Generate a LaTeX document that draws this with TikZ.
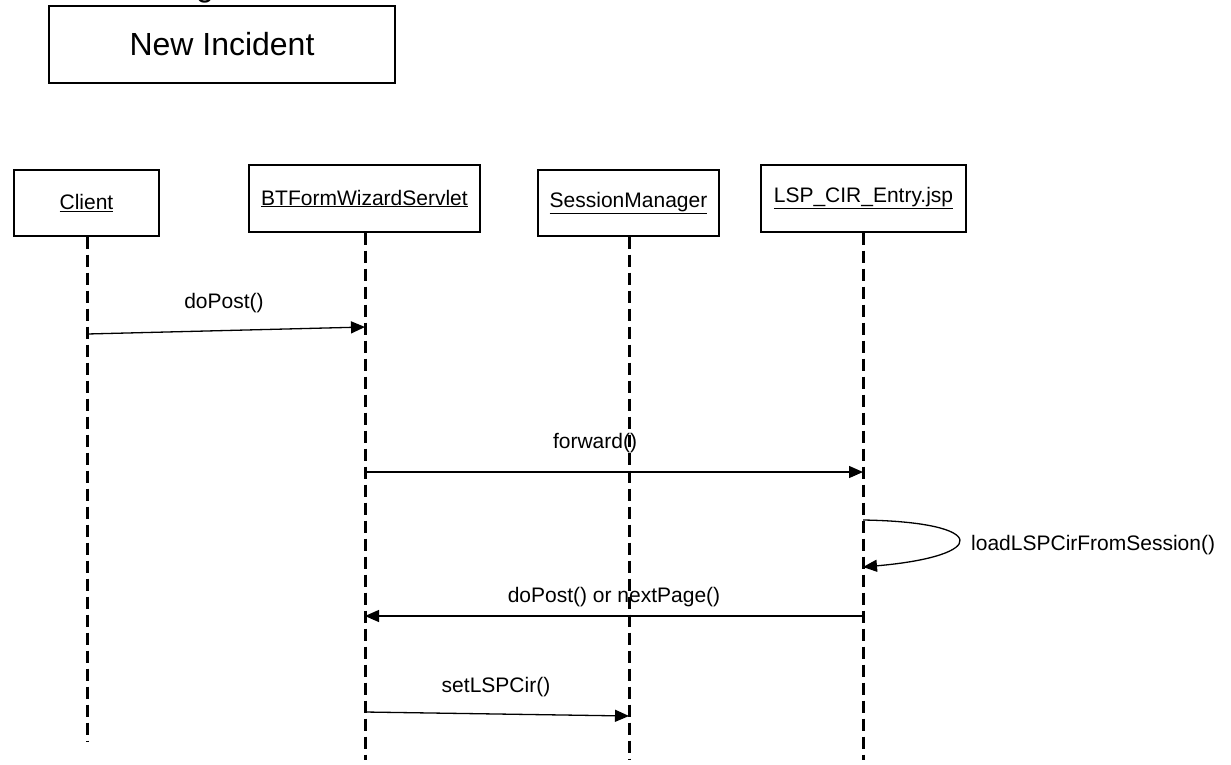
\documentclass[tikz,border=0pt]{standalone}
\usepackage{fontspec}
\setmainfont{Liberation Sans}
\usetikzlibrary{arrows.meta}
\begin{document}
\begin{tikzpicture}[x=1pt,y=-1pt,
  lbl/.style={font=\fontsize{21}{25}\selectfont, inner sep=0pt},
  objbox/.style={draw, line width=1.4pt, font=\fontsize{21}{25}\selectfont, inner sep=0pt},
  lifeline/.style={line width=3pt, dash pattern=on 12pt off 6pt},
  msg/.style={line width=1.3pt, -{Triangle[length=14pt,width=12pt]}}
]
\useasboundingbox (0,0) rectangle (1231,764);
\fill[white] (0,0) rectangle (1231,764);

% cut-off title fragment at the top edge
\begin{scope}
\clip (0,0) rectangle (1231,764);
\node[anchor=base, font=\fontsize{32}{38}\selectfont, inner sep=0pt] (gfrag) at (205,-4) {g};
\end{scope}

% title box
\node[objbox, minimum width=346pt, minimum height=77pt, font=\fontsize{32}{38}\selectfont] (title) at (222,44.5) {New Incident};

% object boxes
\node[objbox, minimum width=145pt, minimum height=66pt] (client) at (86.5,203) {\underline{Client}};
\node[objbox, minimum width=231pt, minimum height=67pt] (servlet) at (364.5,198.5) {\underline{BTFormWizardServlet}};
\node[objbox, minimum width=181pt, minimum height=66pt] (session) at (628.5,203) {\underline{SessionManager}};
\node[objbox, minimum width=205pt, minimum height=67pt] (jsp) at (863.5,198.5) {\underline{LSP\_CIR\_Entry.jsp}};

% lifeline ends
\coordinate (clientEnd) at (87,742);
\coordinate (servletEnd) at (365,760);
\coordinate (sessionEnd) at (629,760);
\coordinate (jspEnd) at (863,760);

\draw[lifeline] (client.south -| clientEnd) -- (clientEnd);
\draw[lifeline] (servlet.south -| servletEnd) -- (servletEnd);
\draw[lifeline] (session.south -| sessionEnd) -- (sessionEnd);
\draw[lifeline] (jsp.south -| jspEnd) -- (jspEnd);

% message points
\coordinate (m1s) at (87,334);
\coordinate (m1e) at (365,327);
\coordinate (m2s) at (365,472);
\coordinate (m2e) at (863,472);
\coordinate (m3s) at (863,520);
\coordinate (m3e) at (863,567);
\coordinate (m4s) at (863,616);
\coordinate (m4e) at (365,616);
\coordinate (m5s) at (365,712);
\coordinate (m5e) at (629,716);

\draw[msg] (m1s) -- (m1e);
\node[lbl] (l1) at (224,303) {doPost()};

\draw[msg] (m2s) -- (m2e);
\node[lbl] (l2) at (595,443) {forward()};

\draw[msg] (m3s) .. controls (990,522) and (990,556) .. (m3e);
\node[lbl, anchor=west] (l3) at (971,545) {loadLSPCirFromSession()};

\draw[msg] (m4s) -- (m4e);
\node[lbl] (l4) at (614,597) {doPost() or nextPage()};

\draw[msg] (m5s) -- (m5e);
\node[lbl] (l5) at (496,687) {setLSPCir()};
\end{tikzpicture}
\end{document}
